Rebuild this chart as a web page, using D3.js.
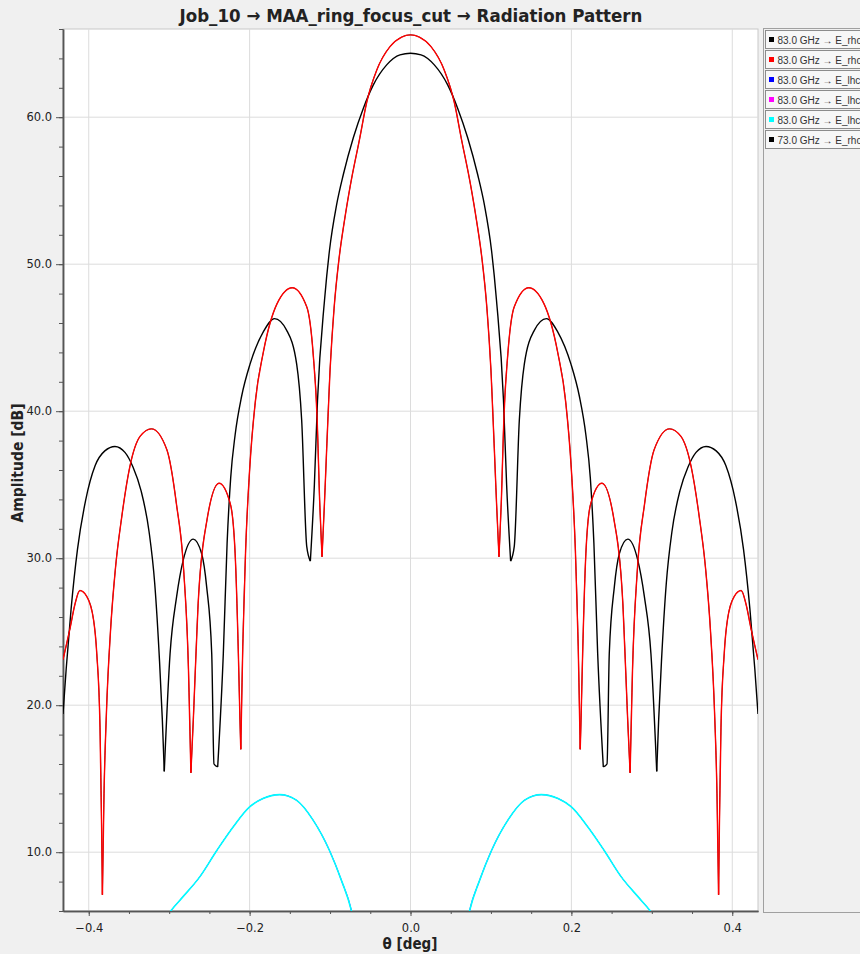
<!DOCTYPE html>
<meta charset="utf-8">
<style>
  body { margin: 0; background: #f0f0f0; }
  text { font-family: "DejaVu Sans", Verdana, sans-serif; }
</style>
<body>
<div id="chart"></div>
<script src="https://d3js.org/d3.v7.min.js"></script>
<script>
// theta [deg], amplitude [dB]
var rhc83 = [
  [-0.432, 23.1], [-0.423, 25.3], [-0.417, 26.9], [-0.411, 27.8], [-0.4025, 27.4], [-0.394, 25.8],
  [-0.390, 23.5], [-0.386, 18.5], [-0.384, 11.7], [-0.383, 7.1], [-0.381, 14.0], [-0.378, 19.5],
  [-0.373, 25.0], [-0.367, 29.2], [-0.359, 32.8], [-0.349, 36.2], [-0.336, 38.3], [-0.322, 38.8],
  [-0.303, 37.4], [-0.291, 33.7], [-0.282, 29.2], [-0.276, 22.4], [-0.273, 15.4], [-0.270, 19.0],
  [-0.264, 26.9], [-0.253, 32.6], [-0.238, 35.1], [-0.224, 33.7], [-0.218, 30.3], [-0.214, 23.5],
  [-0.212, 19.0], [-0.211, 17.0], [-0.2085, 24.0], [-0.205, 30.5], [-0.200, 36.0], [-0.193, 40.6],
  [-0.183, 44.0], [-0.166, 47.3], [-0.147, 48.4], [-0.129, 47.1], [-0.121, 43.9], [-0.116, 39.4],
  [-0.113, 34.0], [-0.110, 30.1], [-0.107, 33.7], [-0.100, 42.8], [-0.095, 47.0], [-0.089, 50.3],
  [-0.082, 53.0], [-0.075, 55.3], [-0.063, 58.6], [-0.0545, 61.0], [-0.042, 63.2], [-0.0255, 64.8],
  [-0.011, 65.45], [0, 65.6],
  [0.011, 65.45], [0.0255, 64.8], [0.042, 63.2], [0.0545, 61.0], [0.063, 58.6], [0.075, 55.3],
  [0.082, 53.0], [0.089, 50.3], [0.095, 47.0], [0.100, 42.8], [0.107, 33.7], [0.110, 30.1],
  [0.113, 34.0], [0.116, 39.4], [0.121, 43.9], [0.129, 47.1], [0.147, 48.4], [0.166, 47.3],
  [0.183, 44.0], [0.193, 40.6], [0.200, 36.0], [0.205, 30.5], [0.2085, 24.0], [0.211, 17.0],
  [0.212, 19.0], [0.214, 23.5], [0.218, 30.3], [0.224, 33.7], [0.238, 35.1], [0.253, 32.6],
  [0.264, 26.9], [0.270, 19.0], [0.273, 15.4], [0.276, 22.4], [0.282, 29.2], [0.291, 33.7],
  [0.303, 37.4], [0.322, 38.8], [0.336, 38.3], [0.349, 36.2], [0.359, 32.8], [0.367, 29.2],
  [0.373, 25.0], [0.378, 19.5], [0.381, 14.0], [0.383, 7.1], [0.384, 11.7], [0.386, 18.5],
  [0.390, 23.5], [0.394, 25.8], [0.4025, 27.4], [0.411, 27.8], [0.417, 26.9], [0.423, 25.3],
  [0.432, 23.1]
];

var rhc73 = [
  [-0.432, 19.4], [-0.428, 22.5], [-0.422, 26.5], [-0.414, 30.6], [-0.404, 33.9], [-0.392, 36.3],
  [-0.380, 37.3], [-0.3674, 37.6], [-0.355, 37.2], [-0.345, 36.2], [-0.335, 34.6], [-0.325, 31.8],
  [-0.318, 28.3], [-0.312, 23.0], [-0.3085, 19.0], [-0.3061, 15.5], [-0.2989, 23.5], [-0.2907, 27.4],
  [-0.2824, 29.9], [-0.2700, 31.3], [-0.2596, 30.3], [-0.2534, 28.05], [-0.2471, 23.5], [-0.2443, 16.0],
  [-0.2397, 15.8], [-0.2327, 23.5], [-0.228, 31.0], [-0.2235, 35.5], [-0.218, 38.4], [-0.210, 41.0],
  [-0.1995, 43.2], [-0.183, 45.4], [-0.169, 46.3], [-0.1539, 45.5], [-0.1415, 43.2], [-0.1353, 39.4],
  [-0.1290, 30.8], [-0.1245, 29.8], [-0.1195, 35.0], [-0.1156, 40.75], [-0.1069, 47.55], [-0.1007, 50.95],
  [-0.092, 54.0], [-0.0835, 56.1], [-0.0711, 58.6], [-0.0587, 60.6], [-0.0462, 62.2], [-0.0296, 63.56],
  [-0.0131, 64.24], [0, 64.35],
  [0.0131, 64.24], [0.0296, 63.56], [0.0462, 62.2], [0.0587, 60.6], [0.0711, 58.6], [0.0835, 56.1],
  [0.092, 54.0], [0.1007, 50.95], [0.1069, 47.55], [0.1156, 40.75], [0.1195, 35.0], [0.1245, 29.8],
  [0.1290, 30.8], [0.1353, 39.4], [0.1415, 43.2], [0.1539, 45.5], [0.169, 46.3], [0.183, 45.4],
  [0.1995, 43.2], [0.210, 41.0], [0.218, 38.4], [0.2235, 35.5], [0.228, 31.0], [0.2327, 23.5],
  [0.2397, 15.8], [0.2443, 16.0], [0.2471, 23.5], [0.2534, 28.05], [0.2596, 30.3], [0.2700, 31.3],
  [0.2824, 29.9], [0.2907, 27.4], [0.2989, 23.5], [0.3061, 15.5], [0.3085, 19.0], [0.312, 23.0],
  [0.318, 28.3], [0.325, 31.8], [0.335, 34.6], [0.345, 36.2], [0.355, 37.2], [0.3674, 37.6],
  [0.380, 37.3], [0.392, 36.3], [0.404, 33.9], [0.414, 30.6], [0.422, 26.5], [0.428, 22.5],
  [0.432, 19.4]
];

var lhc83 = [
  [-0.306, 5.4], [-0.299, 5.94], [-0.283, 6.96], [-0.262, 8.32], [-0.241, 10.1], [-0.2205, 11.72],
  [-0.200, 13.08], [-0.1834, 13.65], [-0.1626, 13.92], [-0.1419, 13.54], [-0.1213, 12.2], [-0.1006, 10.1],
  [-0.086, 8.1], [-0.0736, 6.05], [-0.071, 5.4],
  [0.071, 5.4], [0.0736, 6.05], [0.086, 8.1], [0.1006, 10.1], [0.1213, 12.2], [0.1419, 13.54],
  [0.1626, 13.92], [0.1834, 13.65], [0.200, 13.08], [0.2205, 11.72], [0.241, 10.1], [0.262, 8.32],
  [0.283, 6.96], [0.299, 5.94], [0.306, 5.4]
];

var seriesNames = ["83.0 GHz \u2192 E_rhcp", "83.0 GHz \u2192 E_rhcp_dB", "83.0 GHz \u2192 E_lhcp",
  "83.0 GHz \u2192 E_lhcp_dB", "83.0 GHz \u2192 E_lhcp_max", "73.0 GHz \u2192 E_rhcp"];
var seriesData = [rhc83, rhc83, lhc83, lhc83, lhc83, rhc73];
var seriesColors = ["#000000", "#ff0000", "#0000ff", "#ff00ff", "#00ffff", "#000000"];
// hidden series sit under their twins, so keep them thinner
var seriesWidths = [0.8, 1.4, 0.8, 0.8, 1.6, 1.4];
var drawOrder = [0, 2, 3, 4, 5, 1];

var xTicks = [-0.4, -0.2, 0.0, 0.2, 0.4];
var yTicks = [10, 20, 30, 40, 50, 60];

var W = 860, H = 954;
var plot = { left: 63, right: 758, top: 29, bottom: 911 };

var x = d3.scaleLinear().domain([-0.432, 0.432]).range([plot.left, plot.right]);
var y = d3.scaleLinear().domain([6, 66]).range([plot.bottom, plot.top]);

var svg = d3.select("#chart").append("svg")
  .attr("width", W).attr("height", H)
  .style("display", "block");

svg.append("rect").attr("width", W).attr("height", H).attr("fill", "#f0f0f0");

svg.append("rect")
  .attr("x", plot.left).attr("y", plot.top)
  .attr("width", plot.right - plot.left).attr("height", plot.bottom - plot.top)
  .attr("fill", "#ffffff").attr("stroke", "#c8c8c8");

svg.append("clipPath").attr("id", "clip").append("rect")
  .attr("x", plot.left).attr("y", plot.top)
  .attr("width", plot.right - plot.left).attr("height", plot.bottom - plot.top);

// grid
svg.append("g").selectAll("line").data(xTicks).enter().append("line")
  .attr("x1", function(d) { return x(d); }).attr("x2", function(d) { return x(d); })
  .attr("y1", plot.top).attr("y2", plot.bottom)
  .attr("stroke", "#dcdcdc");
svg.append("g").selectAll("line").data(yTicks).enter().append("line")
  .attr("y1", function(d) { return y(d); }).attr("y2", function(d) { return y(d); })
  .attr("x1", plot.left).attr("x2", plot.right)
  .attr("stroke", "#dcdcdc");

// axes
var xAxis = d3.axisBottom(x).tickValues(xTicks).tickFormat(d3.format(".1f")).tickSize(5).tickSizeOuter(0);
var xMinor = d3.axisBottom(x).tickValues(d3.range(-0.4, 0.401, 0.05)).tickFormat("").tickSize(3).tickSizeOuter(0);
var yAxis = d3.axisLeft(y).tickValues(yTicks).tickFormat(d3.format(".1f")).tickSize(7).tickSizeOuter(0);
var yMinor = d3.axisLeft(y).tickValues(d3.range(6, 66.1, 2)).tickFormat("").tickSize(4).tickSizeOuter(0);

function styleAxis(g) {
  g.select(".domain").attr("stroke", "#555").attr("stroke-width", 1.5);
  g.selectAll(".tick line").attr("stroke", "#555");
  g.selectAll(".tick text").attr("fill", "#222").style("font-size", "11.5px")
    .style("font-family", "'DejaVu Sans', Verdana, sans-serif");
}

svg.append("g").attr("transform", "translate(0," + plot.bottom + ")").call(xMinor).call(styleAxis);
svg.append("g").attr("transform", "translate(0," + plot.bottom + ")").call(xAxis).call(styleAxis)
  .selectAll(".tick text").attr("dy", "1.1em");
svg.append("g").attr("transform", "translate(" + plot.left + ",0)").call(yMinor).call(styleAxis);
svg.append("g").attr("transform", "translate(" + plot.left + ",0)").call(yAxis).call(styleAxis)
  .selectAll(".tick text").attr("x", -11);

// series, split into lobes at each null so the nulls stay sharp
function lobes(pts) {
  var segs = [], cur = [pts[0]];
  for (var i = 1; i < pts.length; i++) {
    cur.push(pts[i]);
    if (i < pts.length - 1 && pts[i][1] < pts[i - 1][1] && pts[i][1] < pts[i + 1][1]) {
      segs.push(cur);
      cur = [pts[i]];
    }
  }
  segs.push(cur);
  return segs;
}

var line = d3.line()
  .x(function(d) { return x(d[0]); })
  .y(function(d) { return y(d[1]); })
  .curve(d3.curveMonotoneX);

var lines = svg.append("g").attr("clip-path", "url(#clip)");
drawOrder.forEach(function(k) {
  lines.append("g").selectAll("path").data(lobes(seriesData[k])).enter().append("path")
    .attr("d", line)
    .attr("fill", "none")
    .attr("stroke", seriesColors[k])
    .attr("stroke-width", seriesWidths[k])
    .attr("stroke-linejoin", "round");
});

// titles
svg.append("text")
  .attr("x", 411).attr("y", 22)
  .attr("text-anchor", "middle")
  .style("font-family", "'DejaVu Sans Condensed', 'DejaVu Sans', sans-serif")
  .style("font-weight", "bold").style("font-size", "18.5px").attr("fill", "#222")
  .text("Job_10 \u2192 MAA_ring_focus_cut \u2192 Radiation Pattern");

svg.append("text")
  .attr("x", 410).attr("y", 949)
  .attr("text-anchor", "middle")
  .style("font-family", "'DejaVu Sans Condensed', 'DejaVu Sans', sans-serif")
  .style("font-weight", "bold").style("font-size", "15px").attr("fill", "#222")
  .text("\u03b8 [deg]");

svg.append("text")
  .attr("transform", "translate(23,463) rotate(-90)")
  .attr("text-anchor", "middle")
  .style("font-family", "'DejaVu Sans Condensed', 'DejaVu Sans', sans-serif")
  .style("font-weight", "bold").style("font-size", "15.5px").attr("fill", "#222")
  .text("Amplitude [dB]");

// legend
var legend = svg.append("g");
legend.append("rect")
  .attr("x", 763.5).attr("y", 28.5).attr("width", 110).attr("height", 884)
  .attr("fill", "#f0f0f0").attr("stroke", "#a0a0a0");

var items = legend.selectAll("g.item").data(seriesNames).enter().append("g")
  .attr("class", "item")
  .attr("transform", function(d, i) { return "translate(765.5," + (30.5 + i * 20) + ")"; });
items.append("rect")
  .attr("width", 110).attr("height", 18)
  .attr("fill", "#f7f7f7").attr("stroke", "#8c8c8c");
items.append("rect")
  .attr("x", 3.5).attr("y", 6.5).attr("width", 5).attr("height", 5)
  .attr("fill", function(d, i) { return seriesColors[i]; });
items.append("text")
  .attr("x", 12).attr("y", 13)
  .style("font-family", "'Liberation Sans', Arial, sans-serif")
  .style("font-size", "10px").attr("fill", "#333")
  .text(function(d) { return d; });
</script>
</body>
